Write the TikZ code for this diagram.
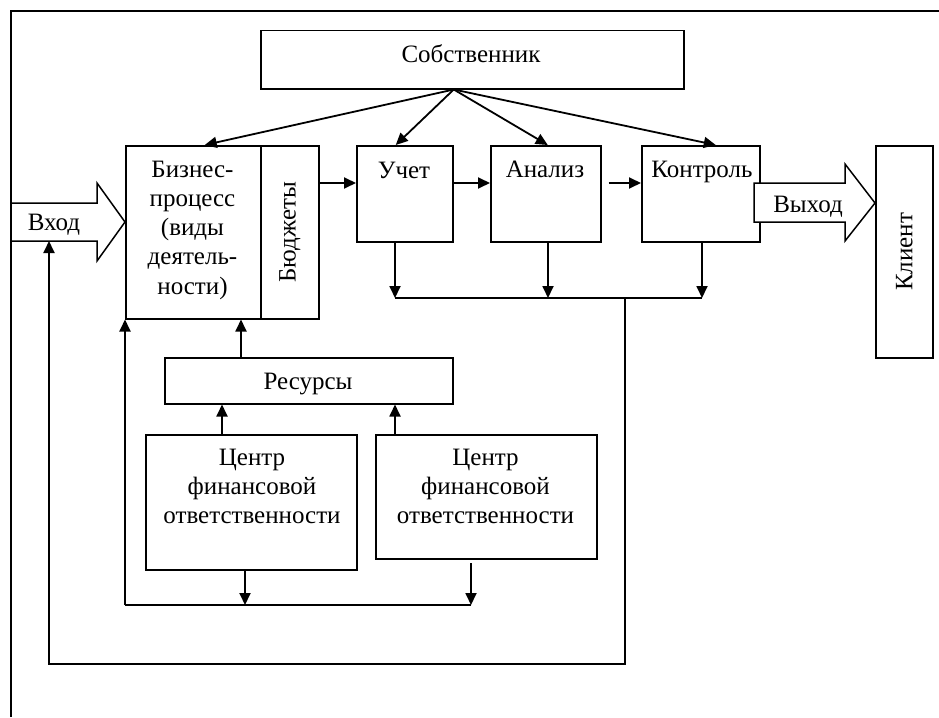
\documentclass[tikz,border=0pt]{standalone}
\usepackage{fontspec}
\setmainfont{Liberation Serif}
\usetikzlibrary{arrows.meta,calc}

\begin{document}
\begin{tikzpicture}[x=1pt,y=-1pt,
  every node/.style={font=\fontsize{25}{29.3}\selectfont, inner sep=0pt},
  box/.style={draw, line width=1.5pt, rectangle, anchor=north west},
  lbl/.style={anchor=base},
  multi/.style={anchor=north, align=center},
  arr/.style={line width=1.8pt, -{Triangle[length=12pt,width=11pt]}},
  wire/.style={line width=1.5pt},
  fat/.style={draw, line width=1.5pt, fill=white, line join=miter}]

\useasboundingbox (0,0) rectangle (939,717);

% page frame (top and left edges)
\draw[line width=1.3pt] (11,717) -- (11,11) -- (939,11);

% blocks
\node[box, minimum width=423pt, minimum height=58pt] (own)    at (260,30)  {};
\node[box, minimum width=135pt, minimum height=173pt] (biz)   at (125,145) {};
\node[box, minimum width=58pt,  minimum height=173pt] (budg)  at (260,145) {};
\node[box, minimum width=96pt,  minimum height=96pt]  (uchet) at (356,145) {};
\node[box, minimum width=110pt, minimum height=96pt]  (anal)  at (490,145) {};
\node[box, minimum width=118pt, minimum height=96pt]  (kontr) at (641,145) {};
\node[box, minimum width=57pt,  minimum height=212pt] (client) at (875,145) {};
\node[box, minimum width=288pt, minimum height=46pt]  (res)   at (164,357) {};
\node[box, minimum width=211pt, minimum height=135pt] (cfoa)  at (145,434) {};
\node[box, minimum width=221pt, minimum height=124pt] (cfob)  at (375,434) {};

% labels
\node[lbl] (ownT)   at (471,63)  {Собственник};
\node[lbl] (uchetT) at (404,178) {Учет};
\node[lbl] (analT)  at (545,177) {Анализ};
\node[lbl] (kontrT) at (702,177) {Контроль};
\node[lbl] (resT)   at (308,389) {Ресурсы};
\node[multi] (bizT) at (192.5,160.5) {Бизнес-\\процесс\\(виды\\деятель-\\ности)};
\node[rotate=90] (budgT) at (budg.center) {Бюджеты};
\node[rotate=90] (clientT) at (client.center) {Клиент};
\node[multi] (cfoaT) at (252,448.5) {Центр\\финансовой\\ответственности};
\node[multi] (cfobT) at (485.5,448.5) {Центр\\финансовой\\ответственности};

% input and output block arrows
\path[fat] (11,203) -- (97,203) -- (97,183) -- (biz.west |- 0,222) -- (97,261) -- (97,241) -- (11,241) -- cycle;
\node[lbl] (inT) at (54,230) {Вход};
\path[fat] (754,183) -- (845,183) -- (845,164) -- (client.west |- 0,203) -- (845,241) -- (845,222) -- (754,222) -- cycle;
\node[lbl] (outT) at (808,212) {Выход};

% owner fan-out
\coordinate (fan) at ([xshift=-18.5pt]own.south);
\draw[arr] (fan) -- ([xshift=11.5pt]biz.north);
\draw[arr] (fan) -- ([xshift=-9pt]uchet.north);
\draw[arr] (fan) -- ([xshift=2pt]anal.north);
\draw[arr] (fan) -- ([xshift=15pt]kontr.north);

% main chain
\draw[arr] ($(budg.north east)+(0,38)$) -- ($(uchet.north west)+(0,38)$);
\draw[arr] ($(uchet.north east)+(0,38)$) -- ($(anal.north west)+(0,38)$);
\draw[arr] ($(anal.north east)+(7,38)$) -- ($(kontr.north west)+(0,38)$);

% outputs to the common bus
\coordinate (busA) at (395,298);
\coordinate (busB) at (548,298);
\coordinate (busC) at (702,298);
\coordinate (busD) at (625,298);
\draw[arr] (uchet.south -| busA) -- (busA);
\draw[arr] (anal.south -| busB) -- (busB);
\draw[arr] (kontr.south -| busC) -- (busC);
\draw[wire] (busA) -- (busC);

% feedback to the input
\coordinate (fbA) at (625,664);
\coordinate (fbB) at (49,664);
\draw[arr] (busD) -- (fbA) -- (fbB) -- (fbB |- 0,241);

% resources
\draw[arr] (res.north -| 241,0) -- (biz.south -| 241,0);
\draw[arr] (cfoa.north -| 222,0) -- (res.south -| 222,0);
\draw[arr] (cfob.north -| 395,0) -- (res.south -| 395,0);

% responsibility centres back to the business process
\coordinate (lpA) at (245,605);
\coordinate (lpB) at (471,605);
\coordinate (lpC) at (125,605);
\draw[arr] (cfoa.south -| lpA) -- (lpA);
\draw[arr] (471,563) -- (lpB);
\draw[wire] (lpB) -- (lpC);
\draw[arr] (lpC) -- (biz.south west);

\end{tikzpicture}
\end{document}
